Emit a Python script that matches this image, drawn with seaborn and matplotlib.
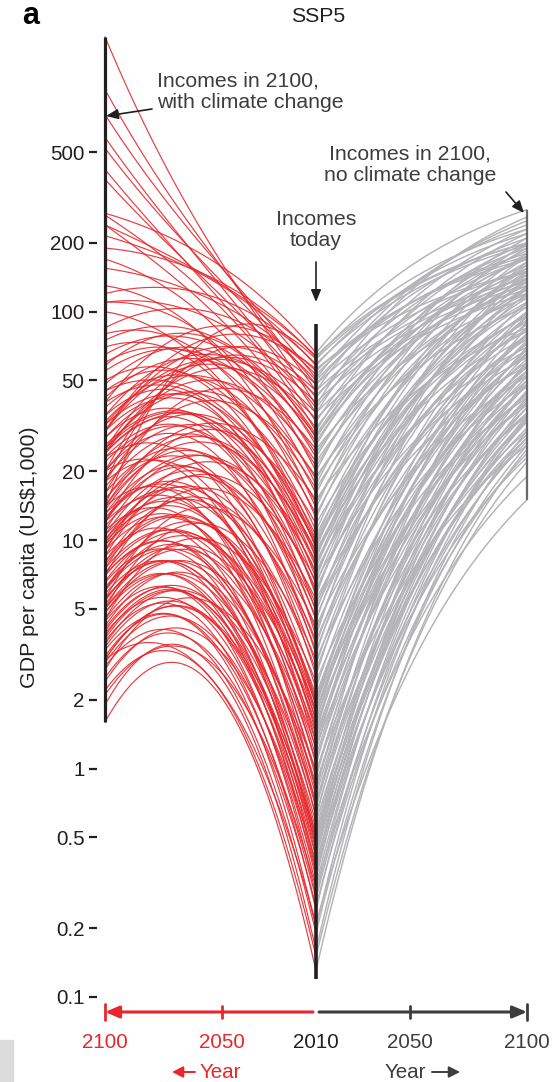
#!/usr/bin/env python3
"""
SSP5 income trajectories: 2010 -> 2100, with (left, red) and without (right, grey)
climate change. Re-drawn with seaborn / matplotlib.
"""

import numpy as np
import pandas as pd
import matplotlib
matplotlib.use("Agg")
import matplotlib.pyplot as plt
import seaborn as sns

# ─────────────────────── data (GDP per capita, US$1,000) ─────────────────
# one entry per country
INCOME_2010 = [
    0.13, 0.15, 0.16, 0.19, 0.2, 0.21, 0.24, 0.25, 0.27, 0.28, 0.3, 0.31, 0.33,
    0.35, 0.36, 0.37, 0.39, 0.41, 0.42, 0.44, 0.45, 0.47, 0.48, 0.49, 0.5,
    0.52, 0.54, 0.58, 0.61, 0.63, 0.67, 0.69, 0.72, 0.76, 0.79, 0.83, 0.86,
    0.91, 0.95, 0.98, 1.04, 1.08, 1.13, 1.2, 1.24, 1.3, 1.33, 1.41, 1.44, 1.5,
    1.56, 1.6, 1.66, 1.72, 1.76, 1.81, 1.87, 1.9, 1.96, 2.0,
    2.1, 2.25, 2.4, 2.55, 2.7, 2.85, 3.0, 3.15, 3.3, 3.5, 3.65, 3.8, 4.0, 4.2,
    4.45, 4.6, 4.85, 5.0, 5.2, 5.5, 5.7, 5.9, 6.1, 6.4, 6.6, 6.8, 7.1, 7.3,
    7.6, 7.8, 8.1, 8.3, 8.6, 8.8, 9.0, 9.2, 9.4, 9.6, 9.8, 10.0,
    10.5, 11, 11.8, 12.5, 13, 13.8, 14.5, 15, 16, 16.8, 17.5, 18.5, 19, 20,
    21, 22, 23, 24, 25, 26, 27, 28, 28.5, 29, 30,
    31, 33, 34, 36, 36, 39, 40, 42, 43, 45, 45, 48, 48, 51, 53, 55, 56, 58,
    59, 62, 63, 64, 66, 38, 50,
]
INCOME_2100_NO_CC = [
    25, 22, 30, 26, 34, 15, 35, 24, 28, 40, 19, 33, 45, 27, 38, 50, 23, 31,
    42, 36, 55, 29, 48, 34, 60,
    28, 45, 33, 60, 38, 52, 70, 30, 48, 85, 41, 36, 65, 55, 26, 75, 44, 58,
    90, 35, 50, 68, 40, 80, 62, 47, 95, 39, 57, 73, 43, 100, 53, 66, 78,
    55, 80, 42, 110, 65, 95, 48, 130, 72, 88, 60, 150, 100, 52, 120, 76, 140,
    68, 92, 58, 165, 105, 84, 125, 63, 145, 98, 78, 115, 135, 70, 160, 90,
    108, 82, 175, 128, 96, 118, 155,
    110, 150, 95, 180, 125, 200, 140, 85, 165, 120, 190, 135, 105, 210, 155,
    130, 175, 145, 115, 195, 160, 185, 138, 170, 220,
    150, 200, 120, 230, 125, 260, 130, 190, 135, 250, 140, 210, 150, 240, 175,
    170, 150, 220, 195, 200, 230, 200, 280, 170, 180,
]
INCOME_2100_CC = [
    1.6, 2.2, 1.9, 2.8, 3.1, 3.0, 3.6, 2.5, 3.3, 4.4, 2.1, 3.9, 5.0, 2.9, 4.1,
    5.8, 2.4, 3.4, 4.8, 3.8, 6.5, 3.0, 5.5, 3.7, 7.0,
    3.0, 5.5, 4.0, 8.5, 4.5, 7.0, 11, 3.5, 6.0, 14, 5.0, 4.2, 9.5, 7.5, 2.7,
    12, 6.2, 9.0, 20, 4.8, 7.2, 10.5, 5.2, 13, 9.8, 6.6, 18, 5.4, 8.0, 11.5,
    6.0, 23, 7.8, 10, 12.5,
    6, 10, 4.5, 15, 8, 13, 5, 20, 9, 12, 7.5, 24, 16, 5.5, 23, 10.5, 28, 9.5,
    14, 7, 35, 22, 12, 25, 8.5, 30, 17, 11, 26, 40, 9, 50, 15, 24, 13.5, 70,
    32, 18.5, 45, 100,
    20, 45, 12, 80, 28, 130, 38, 14, 60, 25, 110, 33, 18, 170, 55, 24, 48, 42,
    16, 58, 65, 240, 30, 75, 265,
    35, 420, 24, 580, 32, 1600, 25, 380, 20, 940, 30, 520, 18, 730, 155, 40,
    30, 215, 120, 14, 190, 240, 270, 110, 85,
]
TODAY_RANGE = (0.12, 88)          # span of the "incomes today" bar

X_TICKS = [-90, -40, 0, 40, 90]   # years from 2010, left side mirrored
X_LABELS = ["2100", "2050", "2010", "2050", "2100"]
Y_TICKS = [0.1, 0.2, 0.5, 1, 2, 5, 10, 20, 50, 100, 200, 500]
Y_LABELS = ["0.1", "0.2", "0.5", "1", "2", "5", "10", "20", "50", "100", "200", "500"]

# ─────────────────────── style ───────────────────────────────────────────
RED = "#e8262b"
GREY = "#b4b4b6"
INK = "#231f20"
DARK = "#3d3d3f"
FS_TICK = 14.8
FS_TEXT = 15.3
W, H = 555, 1082

sns.set_theme(style="white")
plt.rcParams["font.family"] = ["Liberation Sans", "DejaVu Sans"]


def fxy(px, py):
    """pixel position (top-left origin) -> figure fraction"""
    return px / W, 1 - py / H


# ─────────────────────── trajectories ────────────────────────────────────
K_CONV = 1.3      # convergence speed of no-climate-change growth
P_DAMAGE = 2.3    # climate effect accumulates faster than linearly
s = np.linspace(0, 1, 80)
conv = (1 - np.exp(-K_CONV * s)) / (1 - np.exp(-K_CONV))

rows = []
for i, (y0, y1, yc) in enumerate(zip(INCOME_2010, INCOME_2100_NO_CC, INCOME_2100_CC)):
    l0, l1, lc = np.log10([y0, y1, yc])
    no_cc = l0 + (l1 - l0) * conv
    with_cc = no_cc + (lc - l1) * s ** P_DAMAGE
    rows.append(pd.DataFrame({"country": i, "x": 90 * s, "income": 10 ** no_cc,
                              "scenario": "no_cc"}))
    rows.append(pd.DataFrame({"country": i, "x": -90 * s, "income": 10 ** with_cc,
                              "scenario": "cc"}))
df = pd.concat(rows, ignore_index=True)

# ─────────────────────── figure ──────────────────────────────────────────
px_dec = 228.4
y_lo, y_hi = 0.0859, 2000
ax_h = np.log10(y_hi / y_lo) * px_dec
ax_left, ax_right, ax_bottom = 97, 540, 1012
fig = plt.figure(figsize=(W / 100, H / 100), dpi=100)
ax = fig.add_axes([ax_left / W, (H - ax_bottom) / H, (ax_right - ax_left) / W, ax_h / H])
ax.set_yscale("log")

sns.lineplot(data=df[df.scenario == "cc"], x="x", y="income", units="country",
             estimator=None, color=RED, lw=0.85, alpha=0.9, ax=ax, legend=False)
sns.lineplot(data=df[df.scenario == "no_cc"], x="x", y="income", units="country",
             estimator=None, color=GREY, lw=1.05, ax=ax, legend=False)

# range bars
ax.plot([-90, -90], [min(INCOME_2100_CC), max(INCOME_2100_CC)], color=INK, lw=2.3,
        solid_capstyle="butt")
ax.plot([0, 0], TODAY_RANGE, color=INK, lw=2.6, solid_capstyle="butt")
ax.plot([90, 90], [min(INCOME_2100_NO_CC), max(INCOME_2100_NO_CC)], color="#6a6a6c",
        lw=1.6, solid_capstyle="butt")

px_year = (527 - 105) / 180
ax.set_xlim(-90 - (105 - ax_left) / px_year, 90 + (ax_right - 527) / px_year)
ax.set_ylim(y_lo, y_hi)
for sp in ax.spines.values():
    sp.set_visible(False)

ax.set_yticks(Y_TICKS)
ax.set_yticklabels(Y_LABELS)
ax.yaxis.set_minor_locator(matplotlib.ticker.NullLocator())
ax.tick_params(axis="y", left=True, length=6, width=1.6, color=INK, pad=3,
               labelsize=FS_TICK, labelcolor=INK)
ax.set_xticks(X_TICKS)
ax.set_xticklabels(X_LABELS)
ax.tick_params(axis="x", bottom=True, length=0, pad=15, labelsize=FS_TICK)
for lab, col in zip(ax.get_xticklabels(), [RED, RED, INK, DARK, DARK]):
    lab.set_color(col)
ax.set_xlabel("")
ax.set_ylabel("")

# bottom year axis with arrows
tr = ax.get_xaxis_transform()
gap = 1.3
head = "-|>,head_length=0.7,head_width=0.3"
ax.annotate("", xy=(-90, 0), xytext=(-gap, 0), xycoords=tr, textcoords=tr,
            annotation_clip=False,
            arrowprops=dict(arrowstyle=head, color=RED, lw=2.2, shrinkA=0, shrinkB=0))
ax.annotate("", xy=(90, 0), xytext=(gap, 0), xycoords=tr, textcoords=tr,
            annotation_clip=False,
            arrowprops=dict(arrowstyle=head, color=DARK, lw=2.2, shrinkA=0, shrinkB=0))
for xv, col, half in [(-90, RED, 0.008), (-40, RED, 0.006), (40, DARK, 0.006), (90, DARK, 0.008)]:
    ax.plot([xv, xv], [-half, half], transform=tr, color=col, lw=2.0, clip_on=False)

# "<- Year" / "Year ->"
small_head = "-|>,head_length=0.55,head_width=0.28"
fig.text(*fxy(200, 1072), "Year", ha="left", va="center", color=RED, fontsize=FS_TICK)
ax.annotate("", xy=fxy(172, 1072), xytext=fxy(195, 1072), xycoords="figure fraction",
            textcoords="figure fraction",
            arrowprops=dict(arrowstyle=small_head, color=RED, lw=1.4, shrinkA=0, shrinkB=0))
fig.text(*fxy(426, 1072), "Year", ha="right", va="center", color=DARK, fontsize=FS_TICK)
ax.annotate("", xy=fxy(460, 1072), xytext=fxy(432, 1072), xycoords="figure fraction",
            textcoords="figure fraction",
            arrowprops=dict(arrowstyle=small_head, color=DARK, lw=1.4, shrinkA=0, shrinkB=0))

# labels
fig.text(*fxy(30, 557), "GDP per capita (US$1,000)", rotation=90, ha="center",
         va="center", fontsize=15.4, color=INK)
fig.text(*fxy(318, 17), "SSP5", ha="center", va="center", fontsize=FS_TEXT, color=INK)
fig.text(*fxy(31, 16), "a", ha="center", va="center", fontsize=22,
         fontweight="bold", color="black")

# annotations
arrow = dict(arrowstyle="-|>,head_length=0.6,head_width=0.25", color=INK, lw=1.2,
             shrinkA=0, shrinkB=0)
fig.text(*fxy(157, 92), "Incomes in 2100,\nwith climate change", ha="left",
         va="center", fontsize=FS_TEXT, color=DARK, linespacing=1.15)
ax.annotate("", xy=fxy(106, 116), xytext=fxy(152, 109), xycoords="figure fraction",
            textcoords="figure fraction", arrowprops=arrow)
fig.text(*fxy(410, 165), "Incomes in 2100,\nno climate change", ha="center",
         va="center", fontsize=FS_TEXT, color=DARK, linespacing=1.15)
ax.annotate("", xy=fxy(524, 213), xytext=fxy(506, 192), xycoords="figure fraction",
            textcoords="figure fraction", arrowprops=arrow)
fig.text(*fxy(316, 230), "Incomes\ntoday", ha="center", va="center", fontsize=FS_TEXT,
         color=DARK, linespacing=1.15)
ax.annotate("", xy=fxy(316, 302), xytext=fxy(316, 262), xycoords="figure fraction",
            textcoords="figure fraction", arrowprops=arrow)

# light grey corner patch from the page
fig.patches.append(plt.Rectangle(fxy(0, 1082), 13 / W, 42 / H, transform=fig.transFigure,
                                 color="#dcdcdc", zorder=-1))

fig.savefig("out.png", dpi=100)
